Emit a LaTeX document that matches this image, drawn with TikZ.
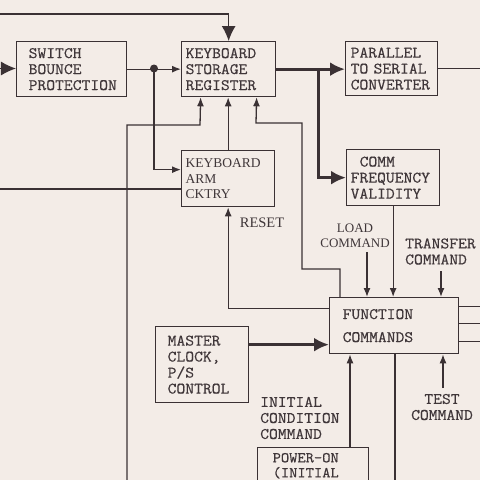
\documentclass[tikz,border=0pt]{standalone}
\usepackage{fontspec}
\setmonofont{Latin Modern Mono}[FakeStretch=1.07, FakeBold=0.5]
\newfontfamily\ser{Liberation Serif}
\usetikzlibrary{arrows.meta}
\definecolor{paper}{HTML}{F3ECE7}
\definecolor{ink}{HTML}{3A3134}
\definecolor{txt}{HTML}{3F3639}
\newcommand{\mono}{\ttfamily}
\begin{document}
\begin{tikzpicture}[x=1pt,y=-1pt,
  box/.style={draw=ink, line width=1.3pt, anchor=north west, inner sep=0pt, align=left, text=txt, font=\mono\fontsize{16}{16}\selectfont},
  lbl/.style={text=txt, inner sep=0pt, font=\mono\fontsize{16}{16}\selectfont},
  wire/.style={draw=ink, line width=1.3pt},
  fat/.style={draw=ink, line width=3pt},
  sa/.style={-{Latex[length=9pt,width=7pt]}},
  ba/.style={-{Latex[length=15pt,width=14pt]}}]
\useasboundingbox (0,0) rectangle (480,480);
\clip (0,0) rectangle (480,480);
\fill[paper] (0,0) rectangle (480,480);
% boxes
\node[box, minimum width=110pt, minimum height=55pt, text width=86pt] (sbp) at (16,41) {SWITCH\\BOUNCE\\PROTECTION};
\node[box, minimum width=94pt, minimum height=55pt, text width=86pt] (ksr) at (181,41) {KEYBOARD\\STORAGE\\REGISTER};
\node[box, minimum width=92pt, minimum height=54pt, text width=82pt] (pts) at (345,41) {PARALLEL\\TO SERIAL\\CONVERTER};
\node[box, minimum width=93pt, minimum height=56pt, text width=85pt] (comm) at (346,149) {\hspace*{9pt}COMM\\FREQUENCY\\VALIDITY};
\node[box, minimum width=93pt, minimum height=56pt, text width=85pt, font=\ser\fontsize{13.5}{15.5}\selectfont] (kac) at (181,150) {KEYBOARD\\ARM\\CKTRY};
\node[box, minimum width=129pt, minimum height=56pt, text width=103pt, font=\mono\fontsize{16}{23}\selectfont] (fc) at (329,297) {FUNCTION\\COMMANDS};
\node[box, minimum width=93pt, minimum height=76pt, text width=69pt] (mc) at (155,326) {MASTER\\CLOCK,\\P/S\\CONTROL};
\node[box, minimum width=111pt, minimum height=50pt, text width=81pt, font=\mono\fontsize{15}{15}\selectfont] (pwr) at (257,447) {POWER-ON\\(INITIAL\\\mbox{}};
% labels
\node[text=txt, inner sep=0pt, font=\ser\fontsize{14.5}{15}\selectfont] (reset) at (262,223) {RESET};
\node[text=txt, inner sep=0pt, align=center, font=\ser\fontsize{13}{15}\selectfont] (load) at (355,236) {LOAD\\COMMAND};
\node[lbl, anchor=west, align=left] (transfer) at (405,251.5) {TRANSFER\\COMMAND};
\node[lbl, anchor=west, align=left] (icc) at (260,418) {INITIAL\\CONDITION\\COMMAND};
\node[lbl, align=center] (test) at (442,407) {TEST\\COMMAND};
% free ends
\coordinate (tl) at (0,14);
\coordinate (la) at (0,68.5);
\coordinate (dot) at (154,68.5);
\coordinate (ll) at (0,189);
\coordinate (vb) at (127,480);
\coordinate (jn) at (318,68.5);
\coordinate (pr) at (480,67);
\coordinate (lo) at (367,252);
\coordinate (tr) at (441,271);
\coordinate (te) at (443,388);
\coordinate (rb) at (395,480);
\coordinate (k1) at ([xshift=-28pt]ksr.south);
\coordinate (k3) at ([xshift=28pt]ksr.south);
% connectors
\draw[wire, ba] (tl) -- (tl -| ksr.north) -- (ksr.north);
\draw[wire, ba] (la) -- (la -| sbp.west);
\draw[wire, sa] (sbp.east) -- (ksr.west);
\fill[ink] (dot) circle (4);
\draw[wire, sa] (dot) |- ([yshift=9pt]kac.west);
\draw[wire] (ll) -- (ll -| kac.west);
\draw[wire, sa] (vb) -- (127,125) -- (200,125) -- (k1);
\draw[wire, sa] (kac.north) -- (kac.north |- ksr.south);
\draw[wire, sa] (340,0 |- fc.north) -- (340,269) -- (302,269) -- (302,123) -- (256,123) -- (k3);
\draw[fat, ba] (ksr.east) -- (ksr.east -| pts.west);
\draw[fat, ba] (jn) |- (comm.west);
\draw[wire] (pts.east) -- (pts.east -| pr);
\draw[wire, sa] (comm.south) -- (comm.south |- fc.north);
\draw[wire, sa] (lo) -- (lo |- fc.north);
\draw[wire, sa] (tr) -- (tr |- fc.north);
\draw[wire, sa] ([yshift=17pt]fc.west) -| (kac.south);
\draw[wire] ([yshift=19pt]fc.east) -- ++(30,0);
\draw[wire] ([yshift=2pt]fc.east) -- ++(30,0);
\draw[wire] ([yshift=-16pt]fc.east) -- ++(30,0);
\draw[fat, ba] ([yshift=20pt]mc.east) -- ([yshift=20pt]mc.east -| fc.west);
\draw[wire, sa] (350,0 |- pwr.north) -- (350,0 |- fc.south);
\draw[wire] (rb |- fc.south) -- (rb);
\draw[wire, sa] (te) -- (te |- fc.south);
\end{tikzpicture}
\end{document}
